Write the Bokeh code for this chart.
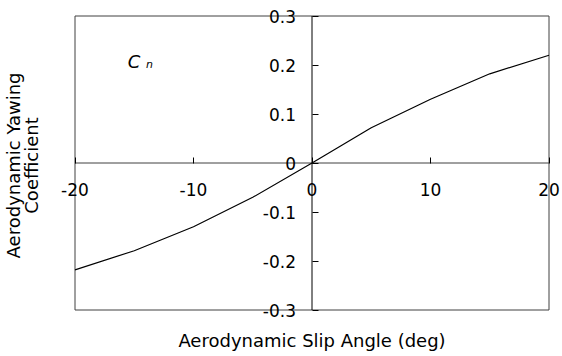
import math
from bokeh.plotting import figure
from bokeh.models import LinearAxis, FixedTicker, Label, Range1d, CustomJSTickFormatter
from bokeh.embed import file_html
from bokeh.resources import INLINE

# Aerodynamic yawing coefficient vs slip angle
slip_angle = [-20, -15, -10, -5, 0, 5, 10, 15, 20]
yaw_coeff = [-0.218, -0.179, -0.130, -0.070, 0.0, 0.072, 0.130, 0.182, 0.220]

x_ticks = [-20, -10, 0, 10, 20]
y_ticks = [-0.3, -0.2, -0.1, 0, 0.1, 0.2, 0.3]

x_title = "Aerodynamic Slip Angle (deg)"
y_title_lines = ["Aerodynamic Yawing", "Coefficient"]

FONT = "DejaVu Sans"
FRAME = "#404040"
W, H = 562, 356

# Box edges in pixels (left, right, top, bottom); the frame fills the whole
# canvas so that the ranges are widened to leave these margins around the box.
BOX_L, BOX_R, BOX_T, BOX_B = 74.5, 548.5, 15.5, 309.5
x_lo, x_hi = x_ticks[0], x_ticks[-1]
y_lo, y_hi = y_ticks[0], y_ticks[-1]
sx = (BOX_R - BOX_L) / (x_hi - x_lo)
sy = (BOX_B - BOX_T) / (y_hi - y_lo)
x_range = Range1d(x_lo - BOX_L / sx, x_hi + (W - BOX_R) / sx)
y_range = Range1d(y_lo - (H - BOX_B) / sy, y_hi + BOX_T / sy)

p = figure(
    width=W, height=H,
    x_range=x_range, y_range=y_range,
    x_axis_location=None, y_axis_location=None,
    toolbar_location=None, output_backend="svg",
    min_border=0,
)
p.grid.visible = False
p.outline_line_color = None
p.background_fill_color = "white"
p.border_fill_color = "white"

# Plot box
p.quad(left=[x_lo], right=[x_hi], bottom=[y_lo], top=[y_hi],
       fill_color=None, line_color=FRAME, line_width=1)

# Axis lines crossing at the origin
p.segment(x0=[x_lo], y0=[0], x1=[x_hi], y1=[0], line_color=FRAME, line_width=1)
p.segment(x0=[0], y0=[y_lo], x1=[0], y1=[y_hi], line_color="black", line_width=1)

# Ticks and tick labels
xaxis = LinearAxis(fixed_location=0, ticker=FixedTicker(ticks=x_ticks))
xaxis.axis_line_color = None
xaxis.major_tick_in = 6
xaxis.major_tick_out = 0
xaxis.minor_tick_line_color = None
xaxis.major_tick_line_color = "black"
xaxis.major_label_standoff = 20
xaxis.major_label_text_font = FONT
xaxis.major_label_text_font_size = "17px"
xaxis.major_label_text_color = "black"
xaxis.formatter = CustomJSTickFormatter(code="return String(Math.round(tick));")
p.add_layout(xaxis, "below")

yaxis = LinearAxis(fixed_location=0, ticker=FixedTicker(ticks=y_ticks))
yaxis.axis_line_color = None
yaxis.major_tick_in = 6
yaxis.major_tick_out = 0
yaxis.minor_tick_line_color = None
yaxis.major_tick_line_color = "black"
yaxis.major_label_standoff = 16
yaxis.major_label_text_font = FONT
yaxis.major_label_text_font_size = "17px"
yaxis.major_label_text_color = "black"
yaxis.formatter = CustomJSTickFormatter(
    code="return Math.abs(tick) < 1e-9 ? '0' : tick.toFixed(1);"
)
p.add_layout(yaxis, "left")

p.line(slip_angle, yaw_coeff, line_color="black", line_width=1.2)

# Axis titles
p.add_layout(Label(x=0, y=-0.3617, text=x_title, text_align="center",
                   text_baseline="alphabetic", text_font=FONT,
                   text_font_size="18px", text_color="black"))
for xpos, line in zip([-25.19, -23.67], y_title_lines):
    p.add_layout(Label(x=xpos, y=-0.005, text=line, angle=math.pi / 2,
                       text_align="center", text_baseline="middle",
                       text_font=FONT, text_font_size="18px",
                       text_color="black"))

# Series label C_n
p.add_layout(Label(x=-15.55, y=0.2078, text="C", text_font=FONT,
                   text_font_style="italic", text_font_size="18px",
                   text_baseline="alphabetic", text_color="black"))
p.add_layout(Label(x=-14.0, y=0.201, text="n", text_font=FONT,
                   text_font_style="italic", text_font_size="11px",
                   text_baseline="alphabetic", text_color="black"))

open("out.html", "w").write(file_html(p, INLINE))
